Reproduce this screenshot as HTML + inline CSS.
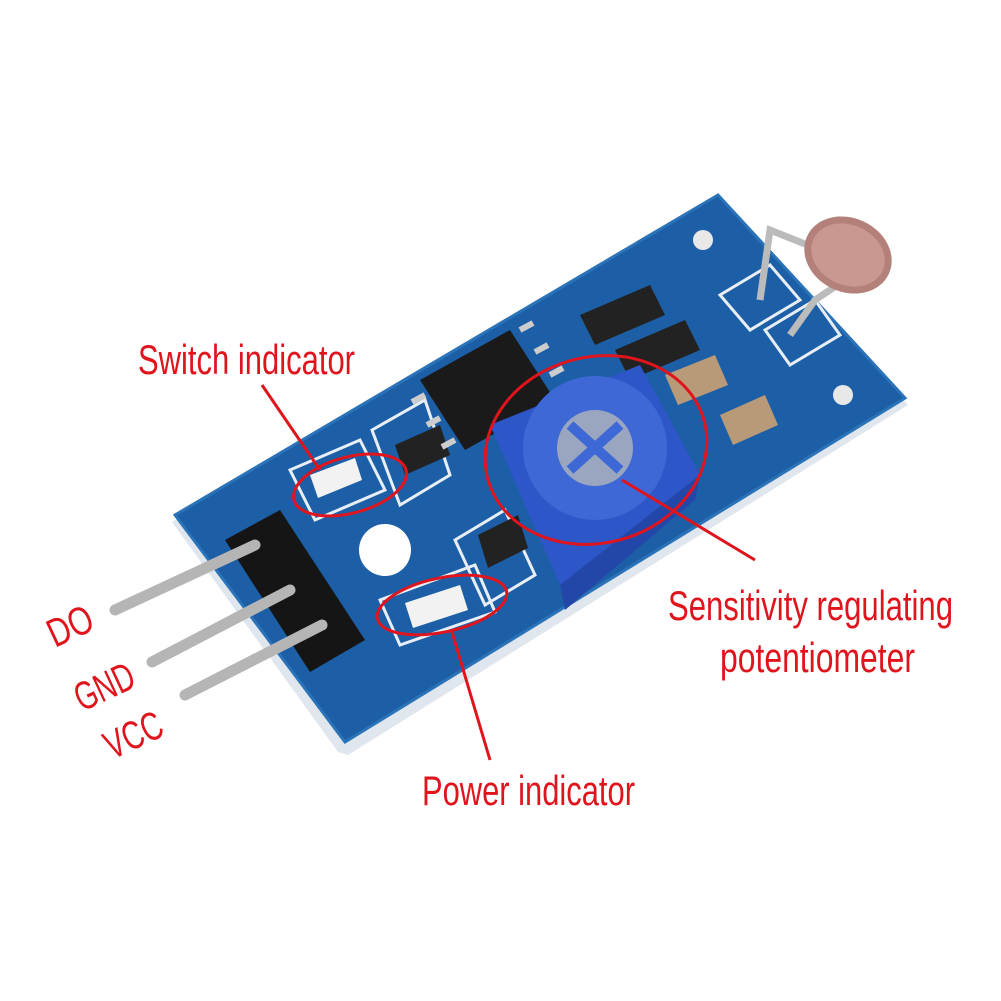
<!DOCTYPE html>
<html><head><style>
body{margin:0;background:#fff}
svg{display:block}
text{font-family:"Liberation Sans Narrow","Liberation Sans",sans-serif;fill:#e0141c}
</style></head><body>
<svg width="1001" height="1001" viewBox="0 0 1001 1001">
<rect width="1001" height="1001" fill="#fff"/>
<polygon points="172,522 720,200 908,405 348,755 338,752" fill="#dfe6ee"/>
<polygon points="175,515 718,195 905,398 345,742" fill="#1d5fa6"/>
<polygon points="175,515 718,195 905,398 345,742" fill="none" stroke="#2a73b8" stroke-width="3"/>
<circle cx="385" cy="550" r="26" fill="#fff"/>
<circle cx="703" cy="240" r="10" fill="#e8e8e8"/>
<circle cx="843" cy="395" r="10" fill="#e8e8e8"/>
<g fill="none" stroke="#e8eef5" stroke-width="3">
<polygon points="720,295 770,265 800,300 750,330"/>
<polygon points="765,330 815,300 840,335 790,365"/>
<polygon points="372,430 425,400 450,475 400,505"/>
<polygon points="455,540 505,510 535,575 485,605"/>
<polygon points="290,470 360,440 385,490 315,520"/>
<polygon points="380,600 475,565 495,612 400,645"/>
</g>
<g>
<polygon points="580,315 650,285 665,315 595,345" fill="#222"/>
<polygon points="615,350 685,320 700,350 630,380" fill="#222"/>
<polygon points="395,445 440,425 450,455 405,475" fill="#222"/>
<polygon points="478,535 518,515 528,548 488,568" fill="#222"/>
<polygon points="665,375 715,355 728,385 678,405" fill="#b89a78"/>
<polygon points="720,415 765,395 778,425 733,445" fill="#b89a78"/>
<polygon points="310,475 355,458 362,480 318,498" fill="#f2f2f2"/>
<polygon points="405,603 460,585 468,610 413,628" fill="#f2f2f2"/>
</g>
<polygon points="420,380 510,330 555,400 465,450" fill="#1a1a1a"/>
<g stroke="#ccc" stroke-width="6">
<line x1="425" y1="395" x2="412" y2="402"/><line x1="440" y1="418" x2="427" y2="425"/>
<line x1="455" y1="440" x2="442" y2="447"/><line x1="520" y1="330" x2="533" y2="323"/>
<line x1="535" y1="352" x2="548" y2="345"/><line x1="550" y1="375" x2="563" y2="368"/>
</g>
<polygon points="490,425 640,365 700,475 560,585" fill="#2d56c8"/>
<polygon points="560,585 700,475 695,500 565,610" fill="#2347a8"/>
<circle cx="595" cy="448" r="72" fill="#3e68d6"/>
<circle cx="595" cy="448" r="38" fill="#9aa6c0"/>
<path d="M570,425 L620,470 M620,425 L570,470" stroke="#3e68d6" stroke-width="10"/>
<path d="M760,300 L770,230 L820,250 M790,335 L815,300 L845,280" stroke="#bbb" stroke-width="7" fill="none"/>
<ellipse cx="848" cy="255" rx="45" ry="37" fill="#b3807a" transform="rotate(25 848 255)"/>
<ellipse cx="848" cy="255" rx="38" ry="30" fill="#c99890" transform="rotate(25 848 255)"/>
<polygon points="225,540 280,510 365,640 310,672" fill="#151515"/>
<g stroke="#b5b5b5" stroke-width="11" stroke-linecap="round">
<line x1="115" y1="610" x2="255" y2="545"/>
<line x1="152" y1="662" x2="290" y2="590"/>
<line x1="185" y1="695" x2="322" y2="625"/>
</g>
<g fill="none" stroke="#e0141c" stroke-width="3">
<ellipse cx="350" cy="485" rx="58" ry="28" transform="rotate(-15 350 485)"/>
<ellipse cx="442" cy="605" rx="66" ry="27" transform="rotate(-12 442 605)"/>
<ellipse cx="596" cy="450" rx="112" ry="93" transform="rotate(-15 596 450)"/>
<line x1="262" y1="385" x2="320" y2="470"/>
<line x1="490" y1="760" x2="452" y2="632"/>
<line x1="755" y1="560" x2="622" y2="480"/>
</g>
<text x="138" y="374" font-size="42" textLength="217" lengthAdjust="spacingAndGlyphs">Switch indicator</text>
<text x="668" y="620" font-size="42" textLength="285" lengthAdjust="spacingAndGlyphs">Sensitivity regulating</text>
<text x="720" y="672" font-size="42" textLength="195" lengthAdjust="spacingAndGlyphs">potentiometer</text>
<text x="422" y="805" font-size="42" textLength="213" lengthAdjust="spacingAndGlyphs">Power indicator</text>
<text x="55" y="648" font-size="40" textLength="46" lengthAdjust="spacingAndGlyphs" transform="rotate(-25 55 648)">DO</text>
<text x="82" y="712" font-size="40" textLength="62" lengthAdjust="spacingAndGlyphs" transform="rotate(-25 82 712)">GND</text>
<text x="112" y="760" font-size="40" textLength="60" lengthAdjust="spacingAndGlyphs" transform="rotate(-25 112 760)">VCC</text>
</svg>
</body></html>
